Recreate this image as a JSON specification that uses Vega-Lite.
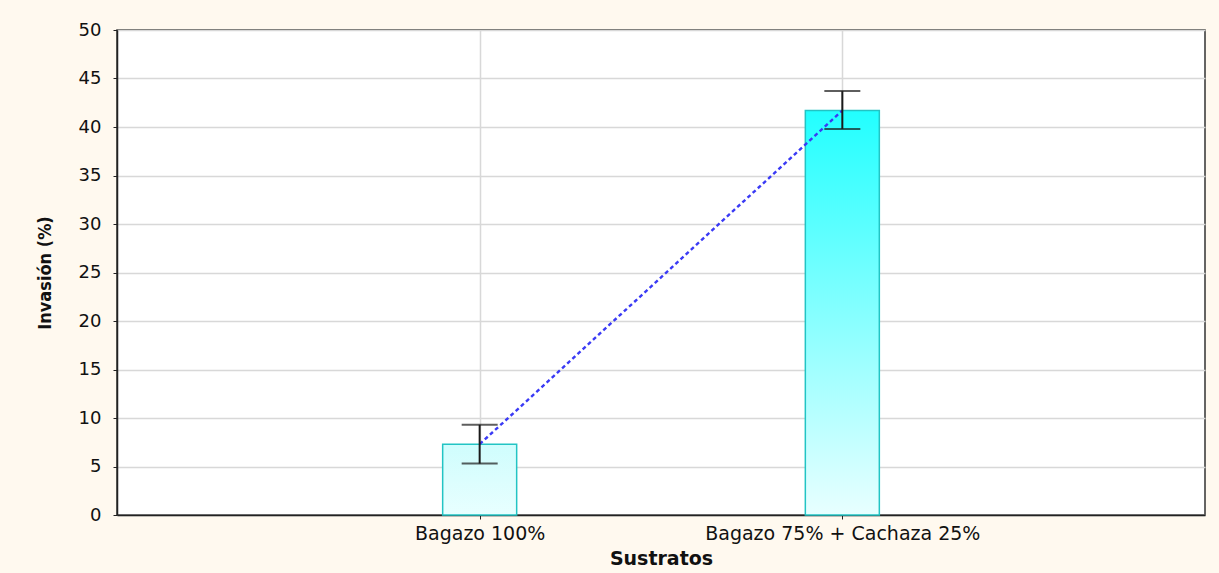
{
  "$schema": "https://vega.github.io/schema/vega-lite/v6.json",
  "autosize": "none",
  "width": 1088,
  "height": 485,
  "padding": {"left": 117, "top": 30, "right": 14, "bottom": 58},
  "background": "#FFF9EF",
  "config": {
    "view": {"stroke": "#333333", "strokeWidth": 1.5, "fill": "white"},
    "font": "DejaVu Sans"
  },
  "data": {
    "values": [
      {"sustrato": "Bagazo 100%", "mean": 7.3, "lo": 5.3, "hi": 9.3},
      {"sustrato": "Bagazo 75% + Cachaza 25%", "mean": 41.7, "lo": 39.8, "hi": 43.7}
    ]
  },
  "encoding": {
    "x": {
      "field": "sustrato",
      "type": "nominal",
      "sort": null,
      "scale": {"type": "point", "padding": 1},
      "axis": {
        "title": "Sustratos",
        "titleFont": "DejaVu Sans",
        "titleFontSize": 19,
        "titleFontWeight": "bold",
        "titleColor": "#111111",
        "titlePadding": 6,
        "labelAngle": 0,
        "labelFont": "DejaVu Sans",
        "labelFontSize": 19,
        "labelColor": "#111111",
        "labelPadding": 5,
        "labelLimit": 0,
        "grid": true,
        "gridColor": "#D8D8D8",
        "gridWidth": 1.5,
        "domainColor": "#222222",
        "domainWidth": 1.5,
        "tickColor": "#222222",
        "tickSize": 4
      }
    }
  },
  "layer": [
    {
      "transform": [{"filter": "datum.sustrato == 'Bagazo 100%'"}],
      "mark": {
        "type": "bar",
        "size": 74,
        "stroke": "#22C4C4",
        "strokeWidth": 1.5,
        "color": {
          "gradient": "linear", "x1": 0, "y1": 1, "x2": 0, "y2": 0,
          "stops": [{"offset": 0, "color": "#E8FFFF"}, {"offset": 1, "color": "#CFFDFD"}]
        }
      },
      "encoding": {
        "y": {
          "field": "mean",
          "type": "quantitative",
          "scale": {"domain": [0, 50], "nice": false},
          "axis": {
            "title": "Invasión (%)",
            "titleFont": "DejaVu Sans Condensed, DejaVu Sans",
            "titleFontSize": 18,
            "titleFontWeight": "bold",
            "titleColor": "#111111",
            "titlePadding": 24,
            "values": [0, 5, 10, 15, 20, 25, 30, 35, 40, 45, 50],
            "labelFont": "DejaVu Sans",
            "labelFontSize": 18,
            "labelColor": "#111111",
            "labelPadding": 12,
            "grid": true,
            "gridColor": "#D8D8D8",
            "gridWidth": 1.5,
            "domainColor": "#222222",
            "domainWidth": 1.5,
            "tickColor": "#222222",
            "tickSize": 4
          }
        }
      }
    },
    {
      "transform": [{"filter": "datum.sustrato != 'Bagazo 100%'"}],
      "mark": {
        "type": "bar",
        "size": 74,
        "stroke": "#22C4C4",
        "strokeWidth": 1.5,
        "color": {
          "gradient": "linear", "x1": 0, "y1": 1, "x2": 0, "y2": 0,
          "stops": [{"offset": 0, "color": "#E8FFFF"}, {"offset": 1, "color": "#22FFFF"}]
        }
      },
      "encoding": {"y": {"field": "mean", "type": "quantitative"}}
    },
    {
      "mark": {"type": "line", "color": "#3A3AF5", "strokeWidth": 2.4, "strokeDash": [4, 3]},
      "encoding": {"y": {"field": "mean", "type": "quantitative"}}
    },
    {
      "mark": {"type": "rule", "color": "#1a1a1a", "strokeWidth": 2},
      "encoding": {"y": {"field": "lo", "type": "quantitative"}, "y2": {"field": "hi"}}
    },
    {
      "mark": {"type": "tick", "color": "#1a1a1a", "thickness": 2, "size": 36},
      "encoding": {"y": {"field": "lo", "type": "quantitative"}}
    },
    {
      "mark": {"type": "tick", "color": "#1a1a1a", "thickness": 2, "size": 36},
      "encoding": {"y": {"field": "hi", "type": "quantitative"}}
    }
  ]
}
